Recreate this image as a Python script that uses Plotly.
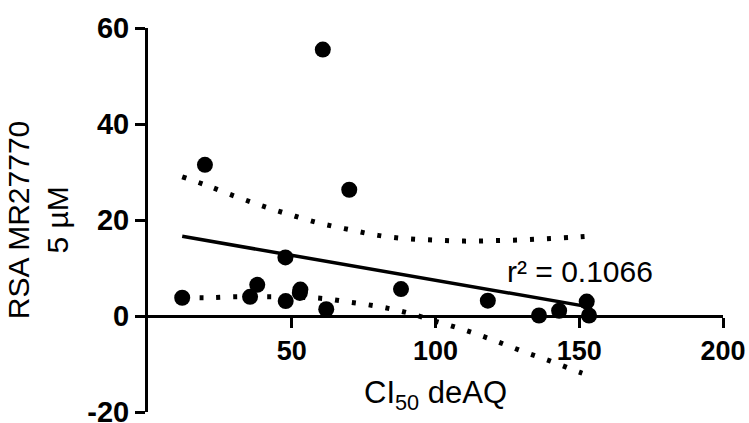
import plotly.graph_objects as go

# Data
cx = [11.9, 19.8, 35.5, 38.0, 47.8, 47.9, 53.0, 52.8, 62.0, 60.8, 70.0, 88.0, 118.2, 136.0, 143.0, 152.6, 153.4]
cy = [3.8, 31.5, 4.0, 6.5, 12.2, 3.1, 5.5, 4.8, 1.4, 55.5, 26.3, 5.6, 3.2, 0.1, 1.1, 3.0, 0.1]

fit_x = [11.9, 153.4]
fit_y = [16.6, 1.9]

band_x = [11.9, 20, 30, 40, 50, 60, 70, 80, 90, 100, 110, 120, 130, 140, 150, 153.4]
upper_y = [29.0, 27.3, 25.0, 22.9, 21.0, 19.3, 18.0, 16.8, 16.1, 15.8, 15.6, 15.7, 15.85, 16.15, 16.5, 16.65]
lower_y = [3.9, 3.8, 4.0, 4.0, 3.95, 3.7, 2.9, 2.0, 0.7, -1.1, -2.9, -5.0, -7.3, -9.4, -11.7, -12.4]

x_ticks = [50, 100, 150, 200]
y_ticks = [-20, 0, 20, 40, 60]
r2_text = "r² = 0.1066"

FONT = "Liberation Sans, Arial, sans-serif"

fig = go.Figure()
dot_line = dict(color="black", width=5, dash="4px,13px", shape="spline")
fig.add_trace(go.Scatter(x=band_x, y=upper_y, mode="lines", line=dot_line, hoverinfo="skip"))
fig.add_trace(go.Scatter(x=band_x, y=lower_y, mode="lines", line=dot_line, hoverinfo="skip"))
fig.add_trace(go.Scatter(x=fit_x, y=fit_y, mode="lines", line=dict(color="black", width=3.5)))
fig.add_trace(go.Scatter(x=cx, y=cy, mode="markers", marker=dict(color="black", size=16)))

fig.update_layout(
    width=749, height=423,
    margin=dict(l=148, r=26, t=28, b=11),
    paper_bgcolor="white", plot_bgcolor="white",
    showlegend=False,
    font=dict(family=FONT, color="black"),
    xaxis=dict(
        range=[0, 200], tickvals=x_ticks, ticktext=[str(v) for v in x_ticks],
        showgrid=False, zeroline=False, showline=True, linecolor="black", linewidth=3,
        ticks="outside", ticklen=10, tickwidth=3, tickcolor="black",
        tickfont=dict(family=FONT, size=27, color="black", weight="bold"),
        anchor="free", position=0.25, ticklabelstandoff=0, automargin=False,
        ticklabeloverflow="allow",
    ),
    yaxis=dict(
        range=[-20, 60], tickvals=y_ticks, ticktext=[str(v) for v in y_ticks],
        showgrid=False, zeroline=False, showline=True, linecolor="black", linewidth=3,
        ticks="outside", ticklen=10, tickwidth=3, tickcolor="black",
        tickfont=dict(family=FONT, size=29, color="black", weight="bold"),
        domain=[0, 1], automargin=False, ticklabeloverflow="allow",
    ),
    annotations=[
        dict(text=r2_text, x=124.2, y=9.2, xref="x", yref="y", xanchor="left", yanchor="middle",
             showarrow=False, font=dict(family=FONT, size=30, color="black")),
        dict(text="CI<sub>50</sub> deAQ", x=0.5, y=0.045, xref="paper", yref="paper",
             xanchor="center", yanchor="middle", showarrow=False,
             font=dict(family=FONT, size=31, color="black")),
        dict(text="RSA MR27770<br>5 µM", x=-0.191, y=0.5, xref="paper", yref="paper",
             xanchor="center", yanchor="middle", textangle=-90, showarrow=False,
             font=dict(family=FONT, size=30, color="black")),
    ],
)

fig.write_html(
    "out.html",
    config={"displayModeBar": False},
    post_script="document.body.style.margin='0';document.body.style.overflow='hidden';",
)
